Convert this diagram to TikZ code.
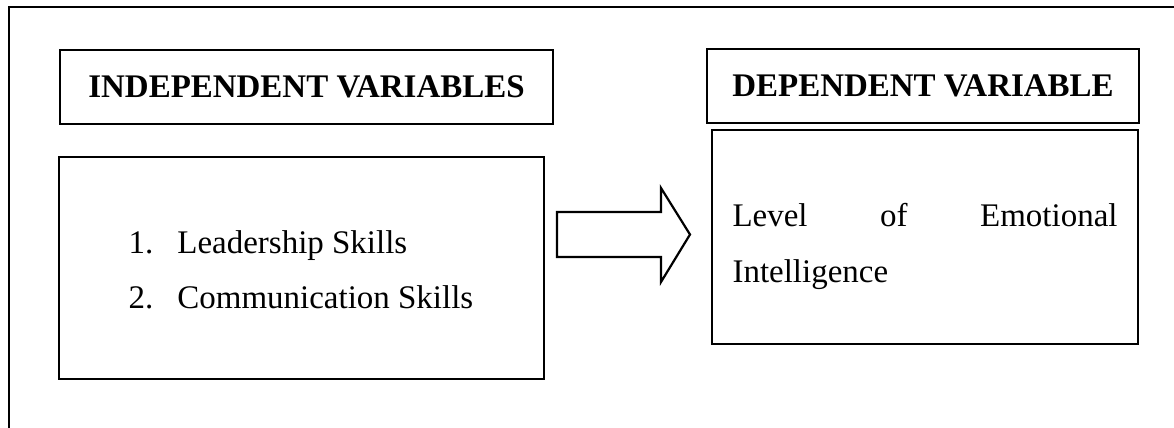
\documentclass[tikz,border=0pt]{standalone}
\usepackage{fontspec}
\setmainfont{Liberation Serif}
\newcommand\unitpx{0.364pt}

\begin{document}
\begin{tikzpicture}[x=\unitpx, y=-\unitpx]
\tikzset{
  header/.style={draw, line width=1pt, inner sep=0pt, font=\bfseries\fontsize{12}{14}\selectfont},
  content/.style={draw, line width=0.7pt, inner sep=0pt},
  bodytext/.style={inner sep=0pt, font=\fontsize{12}{20.4}\selectfont}
}
\useasboundingbox (0,0) rectangle (1174,428);

% outer frame
\draw[line width=0.9pt] (9,428) -- (9,7) -- (1174,7);

\node[header, minimum width=493*\unitpx, minimum height=74*\unitpx] (indep) at (306.5,87) {INDEPENDENT VARIABLES};
\node[header, minimum width=432*\unitpx, minimum height=74*\unitpx] (dep) at (923,86) {DEPENDENT VARIABLE};

\node[content, minimum width=485*\unitpx, minimum height=222*\unitpx] (indepbox) at (301.5,268) {};
\node[content, minimum width=426*\unitpx, minimum height=214*\unitpx] (depbox) at (925,237) {};

\node[bodytext, anchor=base west] (skill1) at (128,253) {\makebox[17.8pt][l]{1.}Leadership Skills};
\node[bodytext, anchor=base west] (skill2) at (128,308) {\makebox[17.8pt][l]{2.}Communication Skills};
\node[bodytext, anchor=base west, text width=385*\unitpx, align=justify] (level) at (732,226) {Level of Emotional \mbox{Intelligence}};

% block arrow
\draw[line width=0.8pt] (557,212) -- (661,212) -- (661,188) -- (690,234.5) -- (661,282) -- (661,257) -- (557,257) -- cycle;
\end{tikzpicture}
\end{document}
